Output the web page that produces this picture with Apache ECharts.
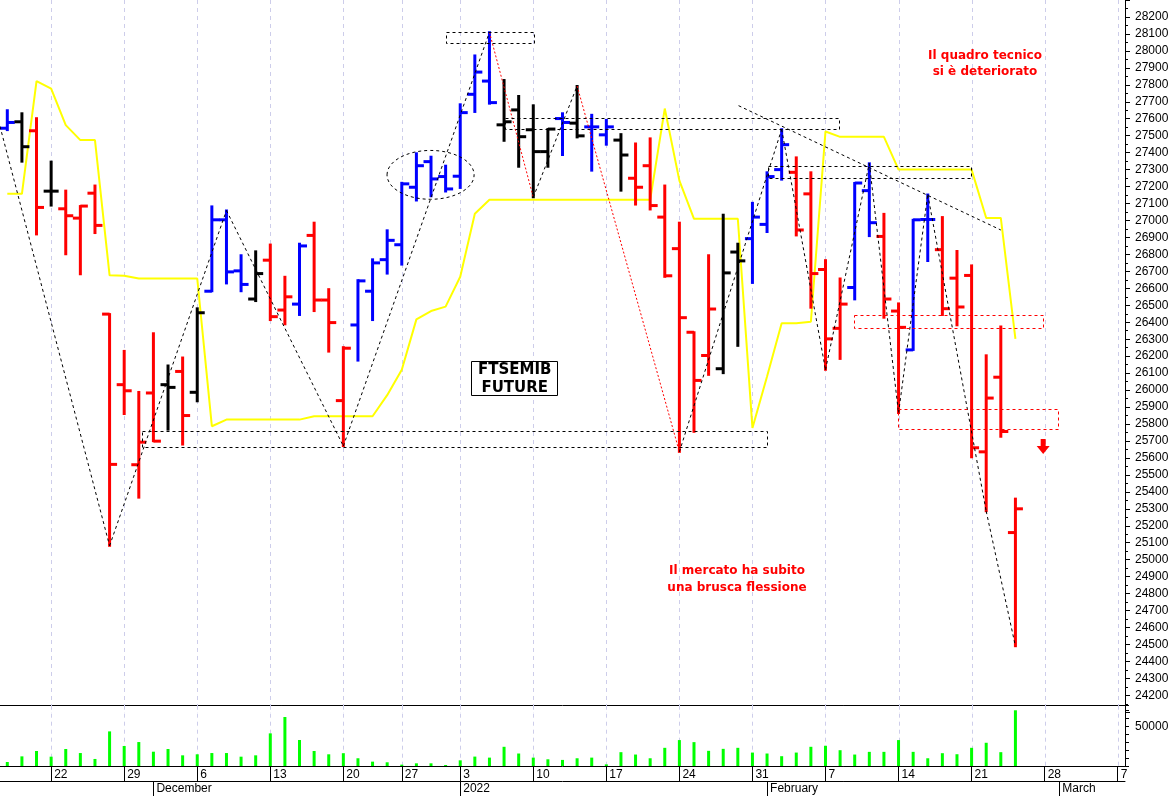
<!DOCTYPE html>
<html><head><meta charset="utf-8">
<script src="https://cdn.jsdelivr.net/npm/echarts@6/dist/echarts.min.js"></script>
<style>html,body{margin:0;padding:0;background:#fff}#c{width:1173px;height:796px}</style>
</head><body><div id="c"></div>
<script>
// ---------------- DATA ----------------
const dates = ['2021-11-17','2021-11-18','2021-11-19','2021-11-22','2021-11-23','2021-11-24','2021-11-25','2021-11-26','2021-11-29','2021-11-30',
'2021-12-01','2021-12-02','2021-12-03','2021-12-06','2021-12-07','2021-12-08','2021-12-09','2021-12-10','2021-12-13','2021-12-14',
'2021-12-15','2021-12-16','2021-12-17','2021-12-20','2021-12-21','2021-12-22','2021-12-23','2021-12-27','2021-12-28','2021-12-29',
'2021-12-30','2022-01-03','2022-01-04','2022-01-05','2022-01-06','2022-01-07','2022-01-10','2022-01-11','2022-01-12','2022-01-13',
'2022-01-14','2022-01-17','2022-01-18','2022-01-19','2022-01-20','2022-01-21','2022-01-24','2022-01-25','2022-01-26','2022-01-27',
'2022-01-28','2022-01-31','2022-02-01','2022-02-02','2022-02-03','2022-02-04','2022-02-07','2022-02-08','2022-02-09','2022-02-10',
'2022-02-11','2022-02-14','2022-02-15','2022-02-16','2022-02-17','2022-02-18','2022-02-21','2022-02-22','2022-02-23','2022-02-24',
'2022-02-25','2022-02-28','2022-03-01','2022-03-02','2022-03-03','2022-03-04','2022-03-07'];

const opens = [27544,27582,27529,27173,27069,27014,27161,26448,26032,25560,
25983,26032,26110,25987,26583,27004,26703,26537,26766,26472,
26507,26912,26531,25938,26384,26583,26769,26857,27196,27347,
27259,27261,27744,27822,27564,27652,27535,27406,27601,27574,
27552,27505,27474,27249,27323,27020,26834,26341,26204,26126,
26814,26893,26977,27300,27284,27157,26711,26364,26605,27176,
26906,26466,26237,27006,26828,26660,26676,25636,26076,25160];
const highs = [27650,27632,27603,27347,27176,27085,27206,26448,26231,25989,
26335,26145,26192,26482,27083,27059,26795,26818,26858,26668,
26863,26987,26595,26253,26648,26771,26942,27222,27396,27376,
27323,27685,27973,28110,27828,27734,27679,27539,27632,27793,
27623,27593,27509,27454,27484,27206,26987,26341,26795,27034,
26863,27104,27284,27538,27372,27284,26766,26658,27221,27337,
27039,26511,27004,27153,27020,26820,26735,26205,26375,25360];
const lows = [27533,27347,26918,27088,26801,26683,26926,25082,25859,25366,
25699,25767,25679,25934,26583,26629,26583,26525,26413,26388,
26443,26466,26227,25670,26174,26413,26687,26740,27118,27143,
27171,27192,27640,27689,27470,27317,27137,27317,27386,27490,
27294,27447,27176,27094,27065,26668,25636,25754,26090,26100,
26261,26632,26932,27241,26912,26486,26120,26184,26535,26908,
26427,25865,26237,26761,26443,26382,25604,25286,25725,24490];
const closes = [27578,27435,27077,27173,27028,27085,26971,25562,25996,25693,
25699,26016,25850,26456,27004,26697,26623,26687,26433,26550,
26850,26531,26398,26247,26644,26750,26883,27216,27323,27245,
27186,27636,27875,27695,27582,27494,27406,27539,27578,27499,
27552,27552,27386,27196,27088,26674,26427,26057,26478,26691,
26762,27020,27259,27447,26944,26687,26302,26507,27221,26987,
26537,26370,27004,27006,26480,26490,25660,25953,25756,25300];
// b = blue, r = red, k = black
const barColors = ['b','k','r','k','r','r','r','r','r','r',
'r','k','r','k','b','b','b','k','r','r',
'b','r','r','r','b','b','b','b','b','b',
'b','b','b','b','k','k','k','k','b','k',
'b','b','k','r','r','r','r','r','r','k',
'k','b','b','b','r','r','r','r','b','b',
'r','r','b','b','r','r','r','r','r','r'];
const yellowLine = [27157,27157,27822,27777,27562,27474,27474,26677,26674,26658,
26658,26658,26658,26658,25787,25826,25826,25826,25826,25826,
25826,25846,25846,25846,25846,25846,25970,26120,26417,26466,
26492,26668,27040,27122,27122,27122,27122,27122,27122,27122,
27122,27122,27122,27122,27122,27660,27235,27010,27010,27010,
27010,25777,26080,26394,26394,26403,27525,27493,27493,27493,
27493,27300,27300,27300,27300,27300,27300,27015,27015,26302];
const volumes = [5100,12200,19000,11800,21500,16400,8900,43800,25300,30300,
18100,21500,13500,14800,16400,16400,11800,13500,41300,62000,
32900,19000,14800,16200,9800,5500,4700,1700,3400,3400,
1300,7200,11900,10600,24300,15800,10600,8500,7700,9800,
10600,2100,17500,14500,9800,23000,32800,30200,19200,21700,
23000,17000,15800,12400,17000,24300,25600,20000,14500,17900,
17900,32800,17900,9800,16200,14900,23000,29400,17500,70500];

// zigzag swing points (bar index, price) and segment colours
const zigzagX = [-0.5,7,15,23,33,36,39,46,53,56,59,61,63,67,69];
const zigzagV = [27555,25082,27059,25670,28110,27137,27793,25636,27538,26120,27337,25865,27153,25286,24490];
const zigzagSegColor = ['k','k','k','k','r','k','r','k','k','k','k','k','k','k'];

// dashed zones (bar index from/to, price top/bottom, red flag)
const zoneX0 = [30.0, 9.19, 34.07, 52.06, 57.95, 60.96];
const zoneX1 = [36.0, 51.98, 56.93, 65.96, 70.9, 71.94];
const zoneTop = [28110, 25758, 27605, 27323, 26445, 25890];
const zoneBot = [28043, 25664, 27540, 27254, 26370, 25770];
const zoneRed = [0,0,0,0,1,1];

// descending trend line
const trendX = [50.05, 68];
const trendV = [27677, 26944];
// ellipse (center index, center price, radius in bars, radius in price)
const ellipse = [28.97, 27269, 2.98, 144];
// arrow anchor
const arrowAt = [70.9, 25665];

// axis tick labels
const weekTickDates = ['2021-11-22','2021-11-29','2021-12-06','2021-12-13','2021-12-20','2021-12-27','2022-01-03','2022-01-10','2022-01-17','2022-01-24','2022-01-31','2022-02-07','2022-02-14','2022-02-21','2022-02-28','2022-03-07'];
const weekTickLabels = ['22','29','6','13','20','27','3','10','17','24','31','7','14','21','28','7'];
const monthTickDates = ['2021-12-01','2022-01-03','2022-02-01','2022-03-01'];
const monthTickLabels = ['December','2022','February','March'];

// ---------------- CHART ----------------
const COLORS = {b:'#0000ff', r:'#ff0000', k:'#000000'};
const weekMap = new Map(weekTickDates.map((d,i)=>[d, weekTickLabels[i]]));
const monthMap = new Map(monthTickDates.map((d,i)=>[d, monthTickLabels[i]]));
const isWeek = (i) => weekMap.has(dates[i]);
const isMonth = (i) => monthMap.has(dates[i]);
const weekIdx = dates.map((d,i)=>i).filter(isWeek);
const FONT = 'Liberation Sans, Arial, sans-serif';

const ohlcData = opens.map((o,i)=>[i, o, highs[i], lows[i], closes[i]]);

function gridLineSeries(xAxisIndex, yAxisIndex, yRef){
  return {
    type:'custom', xAxisIndex, yAxisIndex, silent:true, z:1, clip:false,
    data: weekIdx.map(i=>[i, yRef]),
    renderItem(params, api){
      const x = Math.round(api.coord([api.value(0), yRef])[0]) + 0.5;
      const cs = params.coordSys;
      return {type:'line', shape:{x1:x, y1:Math.max(cs.y,0), x2:x, y2:cs.y+cs.height},
        style:{stroke:'#cdcdea', lineWidth:1, lineDash:[4,4]}};
    }
  };
}

const series = [];
series.push(gridLineSeries(1, 0, 26000));
series.push(gridLineSeries(2, 1, 0));

series.push({
  type:'line', xAxisIndex:0, yAxisIndex:0, data: yellowLine, symbol:'none', silent:true, z:2,
  lineStyle:{color:'#ffff00', width:2}
});

series.push({
  type:'custom', xAxisIndex:0, yAxisIndex:0, data: ohlcData, silent:true, z:3,
  encode:{x:0, y:[1,2,3,4]},
  renderItem(params, api){
    const i = api.value(0);
    const x = api.coord([i, api.value(1)])[0];
    const yO = api.coord([i, api.value(1)])[1];
    const yH = api.coord([i, api.value(2)])[1];
    const yL = api.coord([i, api.value(3)])[1];
    const yC = api.coord([i, api.value(4)])[1];
    const col = COLORS[barColors[params.dataIndex]];
    return {type:'group', children:[
      {type:'rect', shape:{x:x-1.5, y:yH-1, width:3, height:yL-yH+2}, style:{fill:col}},
      {type:'rect', shape:{x:x-7.5, y:yO-1.5, width:7.5, height:3}, style:{fill:col}},
      {type:'rect', shape:{x:x, y:yC-1.5, width:7.5, height:3}, style:{fill:col}}
    ]};
  }
});

// dashed zones
series.push({
  type:'custom', xAxisIndex:1, yAxisIndex:0, silent:true, z:6,
  data: zoneX0.map((x0,i)=>[x0, zoneTop[i], zoneX1[i], zoneBot[i], zoneRed[i]]),
  renderItem(params, api){
    const p0 = api.coord([api.value(0), api.value(1)]);
    const p1 = api.coord([api.value(2), api.value(3)]);
    const red = api.value(4) === 1;
    return {type:'rect', shape:{x:Math.round(p0[0])+0.5, y:Math.round(p0[1])+0.5, width:Math.round(p1[0]-p0[0]), height:Math.round(p1[1]-p0[1])},
      style:{fill:'none', stroke: red ? '#ff0000' : '#000000', lineWidth:1, lineDash:[3,3]}};
  }
});

// ellipse
series.push({
  type:'custom', xAxisIndex:1, yAxisIndex:0, silent:true, z:6,
  data:[ellipse],
  renderItem(params, api){
    const c = api.coord([api.value(0), api.value(1)]);
    const s = api.size([api.value(2), api.value(3)]);
    return {type:'ellipse', shape:{cx:c[0], cy:c[1], rx:s[0], ry:s[1]},
      style:{fill:'none', stroke:'#000', lineWidth:1, lineDash:[3,3]}};
  }
});

// zigzag segments
for (let k = 0; k < zigzagX.length-1; k++){
  const red = zigzagSegColor[k] === 'r';
  series.push({
    type:'line', xAxisIndex:1, yAxisIndex:0, silent:true, z:5, symbol:'none',
    data:[[zigzagX[k], zigzagV[k]],[zigzagX[k+1], zigzagV[k+1]]],
    lineStyle:{color: red ? '#ff0000' : '#000000', width:1, type: red ? [2,2] : [3,3]}
  });
}
// trend line
series.push({
  type:'line', xAxisIndex:1, yAxisIndex:0, silent:true, z:5, symbol:'none',
  data: trendX.map((x,i)=>[x, trendV[i]]),
  lineStyle:{color:'#000', width:1, type:[3,3]}
});
// arrow
series.push({
  type:'custom', xAxisIndex:1, yAxisIndex:0, silent:true, z:7,
  data:[arrowAt],
  renderItem(params, api){
    const c = api.coord([api.value(0), api.value(1)]);
    const x = c[0], y = c[1];
    return {type:'polygon', shape:{points:[[x-2.5,y-8],[x+2.5,y-8],[x+2.5,y-1],[x+6.5,y-1],[x,y+7],[x-6.5,y-1],[x-2.5,y-1]]},
      style:{fill:'#ff0000'}};
  }
});

// volume
series.push({
  type:'bar', xAxisIndex:2, yAxisIndex:1, data: volumes, barWidth:3, silent:true, z:3,
  itemStyle:{color:'#00ff00'}
});

const axisLabelBase = {fontSize:12, fontFamily:FONT, color:'#000'};

const option = {
  animation:false,
  backgroundColor:'#ffffff',
  grid:[
    {left:0, top:-3.03, width:1125, height:715.38},
    {left:0, top:705.7, width:1125, height:60.3}
  ],
  xAxis:[
    {type:'category', gridIndex:0, data:dates, boundaryGap:true, show:false, axisLine:{onZero:false}},
    {type:'value', gridIndex:0, min:-0.5, max:76.5, show:false, axisLine:{onZero:false}},
    {type:'category', gridIndex:1, data:dates, boundaryGap:true, position:'bottom',
      axisLine:{show:true, onZero:false, lineStyle:{color:'#000', width:1}},
      axisTick:{show:true, alignWithLabel:true, interval:(i)=>isWeek(i), length:15, lineStyle:{color:'#000'}},
      axisLabel:Object.assign({interval:(i)=>isWeek(i), formatter:(v)=>weekMap.get(v)||'', align:'left', padding:[0,0,0,3], margin:3}, axisLabelBase),
      splitLine:{show:false}},
    {type:'category', gridIndex:1, data:dates, boundaryGap:true, position:'bottom', offset:15,
      axisLine:{show:true, onZero:false, lineStyle:{color:'#000', width:1}},
      axisTick:{show:true, alignWithLabel:true, interval:(i)=>isMonth(i), length:15, lineStyle:{color:'#000'}},
      axisLabel:Object.assign({interval:(i)=>isMonth(i), formatter:(v)=>monthMap.get(v)||'', align:'left', padding:[0,0,0,3], margin:2}, axisLabelBase),
      splitLine:{show:false}},
    {type:'category', gridIndex:1, data:dates, boundaryGap:true, position:'top',
      axisLine:{show:true, onZero:false, lineStyle:{color:'#000', width:1}},
      axisTick:{show:false}, axisLabel:{show:false}, splitLine:{show:false}}
  ],
  yAxis:[
    {type:'value', gridIndex:0, position:'right', min:24100, max:28300, interval:100,
      axisLine:{show:true, onZero:false, lineStyle:{color:'#000', width:1}},
      axisTick:{show:true, length:5, lineStyle:{color:'#000'}},
      minorTick:{show:true, splitNumber:2, length:3, lineStyle:{color:'#000'}},
      splitLine:{show:false}, minorSplitLine:{show:false},
      axisLabel:Object.assign({margin:10, formatter:(v)=> (v>=24200 && v<=28200) ? String(v) : ''}, axisLabelBase)},
    {type:'value', gridIndex:1, position:'right', min:0, max:76300, interval:10000,
      axisLine:{show:true, onZero:false, lineStyle:{color:'#000', width:1}},
      axisTick:{show:true, length:4, lineStyle:{color:'#000'}},
      splitLine:{show:false},
      axisLabel:Object.assign({margin:10, formatter:(v)=> v===50000 ? '50000' : ''}, axisLabelBase)}
  ],
  graphic:[
    {type:'text', z:100, x:985, y:48, style:{text:'Il quadro tecnico\nsi è deteriorato', fill:'#ff0000',
      font:'bold 12px "DejaVu Sans", sans-serif', textAlign:'center', lineHeight:16}},
    {type:'text', z:100, x:737, y:562, style:{text:'Il mercato ha subito\nuna brusca flessione', fill:'#ff0000',
      font:'bold 12px "DejaVu Sans", sans-serif', textAlign:'center', lineHeight:17}},
    {type:'rect', z:100, shape:{x:471.5, y:361.5, width:86, height:34}, style:{fill:'#fff', stroke:'#000', lineWidth:1}},
    {type:'text', z:101, x:514.7, y:361, style:{text:'FTSEMIB\nFUTURE', fill:'#000',
      font:'bold 15px "DejaVu Sans", sans-serif', textAlign:'center', lineHeight:18}}
  ],
  series
};

const chart = echarts.init(document.getElementById('c'), null, {renderer:'canvas'});
chart.setOption(option);
</script>
</body></html>
